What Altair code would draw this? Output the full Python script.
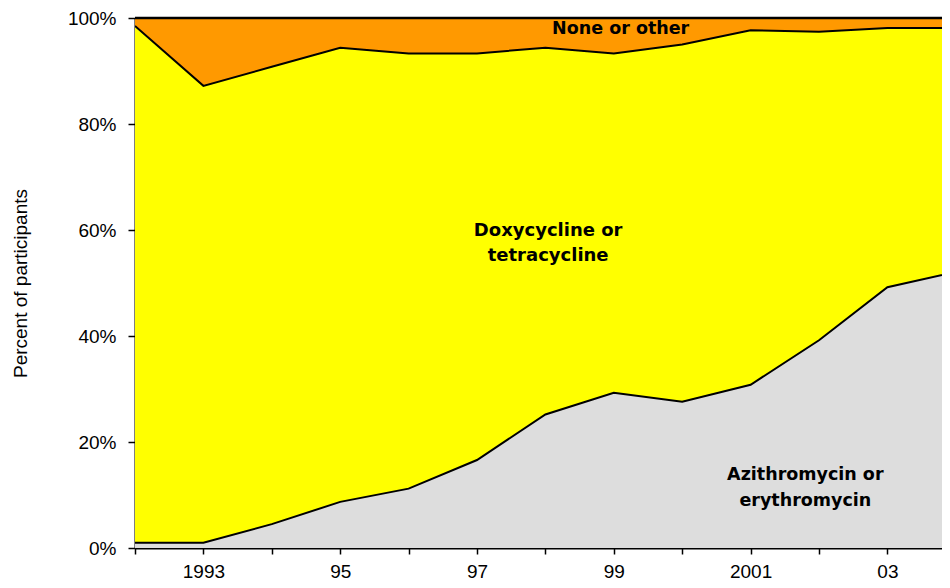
import altair as alt
import pandas as pd

years = [1992, 1993, 1994, 1995, 1996, 1997, 1998, 1999, 2000, 2001, 2002, 2003, 2004]
azithro = [1.0, 1.0, 4.5, 8.7, 11.2, 16.6, 25.2, 29.3, 27.6, 30.8, 39.2, 49.2, 52.1]
doxy = [97.5, 86.2, 86.3, 85.7, 82.1, 76.7, 69.2, 64.0, 67.4, 66.9, 58.2, 48.9, 46.0]
none_other = [1.5, 12.8, 9.2, 5.6, 6.7, 6.7, 5.6, 6.7, 5.0, 2.3, 2.6, 1.9, 1.9]

label_none = ["None or other"]
label_doxy = ["Doxycycline or", "tetracycline"]
label_azi = ["Azithromycin or", "erythromycin"]
label_year = [1999.10, 1998.04, 2001.80]
label_pct = [97.9, 59.8, 13.8]

df = pd.DataFrame({"year": years, "azi": azithro, "doxy": doxy, "none": none_other})
df["lower"] = df["azi"]
df["upper"] = df["azi"] + df["doxy"]
df["top"] = df["upper"] + df["none"]
df["zero"] = 0.0

FONT = "Liberation Sans"
LABEL_FONT = "DejaVu Sans"
PLOT_W = 807
PX_PER_YEAR = 68.4

xscale = alt.Scale(domain=[1992, 1992 + PLOT_W / PX_PER_YEAR], nice=False, zero=False)
x = alt.X(
    "year:Q",
    scale=xscale,
    axis=alt.Axis(
        values=years[:-1],
        labelExpr="datum.value == 1993 || datum.value == 2001 ? '' + datum.value : (datum.value % 2 == 1 ? substring('' + datum.value, 2, 4) : '')",
        title=None,
        grid=False,
        domainColor="black",
        domainWidth=2,
        tickColor="black",
        tickWidth=1.5,
        tickSize=6,
        labelFontSize=19,
        labelFont=FONT,
        labelColor="black",
        labelPadding=8,
        labelFlush=False,
    ),
)
yscale = alt.Scale(domain=[0, 100], nice=False)
yaxis = alt.Axis(
    values=[0, 20, 40, 60, 80, 100],
    labelExpr="datum.value + '%'",
    title="Percent of participants",
    titleFont=FONT,
    titleFontSize=19,
    titleFontWeight="normal",
    titleColor="black",
    titlePadding=37,
    grid=False,
    domainColor="black",
    domainWidth=2,
    tickColor="black",
    tickWidth=1.5,
    tickSize=7,
    labelFontSize=19,
    labelFont=FONT,
    labelColor="black",
    labelPadding=12,
    labelFlush=False,
)

base = alt.Chart(df)

gray = base.mark_area(color="#DDDDDD", opacity=1, clip=True).encode(
    x=x, y=alt.Y("lower:Q", scale=yscale, axis=yaxis), y2="zero:Q"
)
yellow = base.mark_area(color="#FFFF00", opacity=1, clip=True).encode(
    x="year:Q", y=alt.Y("upper:Q", scale=yscale), y2="lower:Q"
)
orange = base.mark_area(color="#FF9900", opacity=1, clip=True).encode(
    x="year:Q", y=alt.Y("top:Q", scale=yscale), y2="upper:Q"
)
line_lower = base.mark_line(color="black", strokeWidth=2, clip=True).encode(
    x="year:Q", y=alt.Y("lower:Q", scale=yscale)
)
line_upper = base.mark_line(color="black", strokeWidth=2, clip=True).encode(
    x="year:Q", y=alt.Y("upper:Q", scale=yscale)
)
line_top = base.mark_line(color="black", strokeWidth=2.5).encode(
    x="year:Q", y=alt.Y("top:Q", scale=yscale)
)


def text_layer(lines, yr, pct, size, lh):
    d = pd.DataFrame({"text": [lines], "year": [yr], "pct": [pct]})
    return alt.Chart(d).mark_text(
        font=LABEL_FONT, fontSize=size, fontWeight="bold", color="black",
        align="center", baseline="middle", lineHeight=lh,
    ).encode(x="year:Q", y=alt.Y("pct:Q", scale=yscale), text="text")


t_none = text_layer(label_none, label_year[0], label_pct[0], 17.5, 25)
t_doxy = text_layer(label_doxy, label_year[1], label_pct[1], 18, 25)
t_azi = text_layer(label_azi, label_year[2], label_pct[2], 17.5, 26)

chart = alt.layer(
    gray, yellow, orange, line_lower, line_upper, line_top, t_none, t_doxy, t_azi
).properties(
    width=PLOT_W,
    height=530,
    autosize=alt.AutoSizeParams(type="none"),
    padding={"left": 127, "top": 10, "right": 0, "bottom": 32},
).configure_view(stroke=None).configure(background="white")

chart.save("out.html", embed_options={"renderer": "svg", "actions": False})
